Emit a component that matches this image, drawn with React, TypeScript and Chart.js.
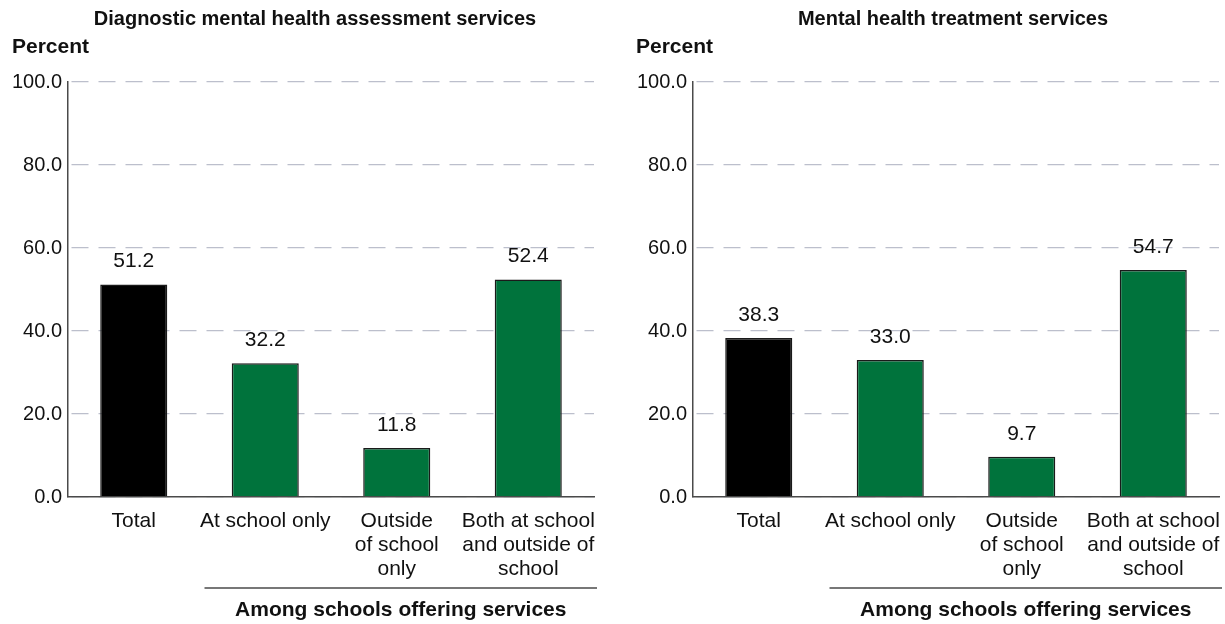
import React, { useEffect, useRef } from "react";
import { Chart, registerables } from "chart.js";

Chart.register(...registerables);

const categories: string[][] = [
  ["Total"],
  ["At school only"],
  ["Outside", "of school", "only"],
  ["Both at school", "and outside of", "school"],
];
const assessmentValues = [51.2, 32.2, 11.8, 52.4];
const treatmentValues = [38.3, 33.0, 9.7, 54.7];
const yTickValues = [0, 20, 40, 60, 80, 100];
const assessmentTitle = "Diagnostic mental health assessment services";
const treatmentTitle = "Mental health treatment services";
const yAxisLabel = "Percent";
const groupLabel = "Among schools offering services";

const GREEN = "#00733C";
const BLACK = "#000000";
const TEXT = "#111111";
const AXIS = "#4a4a4a";
const GRID = "#bcbfcc";
const FONT = "'Liberation Sans', Arial, Helvetica, sans-serif";

type PanelCfg = {
  values: number[];
  title: string;
  titleX: number;
  percentX: number;
  axisWidth: number;
  padRight: number;
};

const annotatePlugin = {
  id: "annotate",
  afterDraw(chart: any, _args: any, opts: any) {
    const ctx = chart.ctx;
    const xs = chart.scales.x;
    const area = chart.chartArea;
    ctx.save();
    ctx.fillStyle = TEXT;
    // title
    ctx.font = `bold 20px ${FONT}`;
    ctx.textAlign = "center";
    ctx.textBaseline = "middle";
    ctx.fillText(opts.title, opts.titleX, 19);
    // Percent
    ctx.font = `bold 21px ${FONT}`;
    ctx.textAlign = "left";
    ctx.fillText(yAxisLabel, opts.percentX, 47);
    // value labels
    ctx.font = `21px ${FONT}`;
    ctx.textAlign = "center";
    const meta = chart.getDatasetMeta(0);
    const data = chart.data.datasets[0].data as number[];
    meta.data.forEach((bar: any, i: number) => {
      ctx.fillText(data[i].toFixed(1), bar.x, bar.y - 23);
    });
    // group underline
    const catW = xs.getPixelForValue(1) - xs.getPixelForValue(0);
    const lx0 = xs.getPixelForValue(1) - catW / 2 + 5;
    const lx1 = area.right + 3;
    ctx.strokeStyle = AXIS;
    ctx.lineWidth = 1.5;
    ctx.beginPath();
    ctx.moveTo(lx0, 588);
    ctx.lineTo(lx1, 588);
    ctx.stroke();
    ctx.font = `bold 21px ${FONT}`;
    ctx.fillText(groupLabel, (lx0 + lx1) / 2, 610);
    ctx.restore();
  },
};

function Panel({ cfg, left, width }: { cfg: PanelCfg; left: number; width: number }) {
  const ref = useRef<HTMLCanvasElement>(null);
  useEffect(() => {
    if (!ref.current) return;
    const chart = new Chart(ref.current, {
      type: "bar",
      data: {
        labels: categories,
        datasets: [
          {
            data: cfg.values,
            backgroundColor: cfg.values.map((_, i) => (i === 0 ? BLACK : GREEN)),
            borderColor: "#1a1a1a",
            borderWidth: 1.5,
            borderSkipped: "start",
            barPercentage: 0.51,
            categoryPercentage: 1,
          },
        ],
      },
      options: {
        responsive: false,
        animation: false,
        layout: { padding: { top: 82, right: cfg.padRight, left: 0, bottom: 0 } },
        plugins: {
          legend: { display: false },
          tooltip: { enabled: false },
          title: { display: false },
          annotate: {
            title: cfg.title,
            titleX: cfg.titleX,
            percentX: cfg.percentX,
          },
        } as any,
        scales: {
          x: {
            grid: { display: false, drawTicks: false },
            border: { display: true, color: AXIS, width: 1.5 },
            ticks: {
              color: TEXT,
              font: { family: FONT, size: 21, lineHeight: "24px" },
              padding: 12,
              maxRotation: 0,
              autoSkip: false,
            },
            afterFit(scale: any) {
              scale.height = 127;
              scale.paddingLeft = 0;
              scale.paddingRight = 0;
            },
          },
          y: {
            min: 0,
            max: 100,
            afterBuildTicks(scale: any) {
              scale.ticks = yTickValues.map((v) => ({ value: v }));
            },
            grid: { color: GRID, lineWidth: 1.3, drawTicks: false },
            border: { display: true, color: AXIS, width: 1.5, dash: [17, 10], dashOffset: -3 },
            ticks: {
              color: TEXT,
              font: { family: FONT, size: 20 },
              padding: 6,
              callback: (v: any) => Number(v).toFixed(1),
            },
            afterFit(scale: any) {
              scale.width = cfg.axisWidth;
              scale.paddingTop = 0;
              scale.paddingBottom = 0;
            },
          },
        },
      },
      plugins: [annotatePlugin],
    });
    return () => chart.destroy();
  }, []);
  return (
    <canvas
      ref={ref}
      width={width}
      height={624}
      style={{ position: "absolute", left, top: 0, width, height: 624, display: "block" }}
    />
  );
}

export default function App() {
  const leftCfg: PanelCfg = {
    values: assessmentValues,
    title: assessmentTitle,
    titleX: 315,
    percentX: 12,
    axisWidth: 68,
    padRight: 18,
  };
  const rightCfg: PanelCfg = {
    values: treatmentValues,
    title: treatmentTitle,
    titleX: 341,
    percentX: 24,
    axisWidth: 81,
    padRight: 6,
  };
  return (
    <div style={{ position: "absolute", left: 0, top: 0, width: 1225, height: 624, background: "#fff" }}>
      <Panel cfg={leftCfg} left={0} width={612} />
      <Panel cfg={rightCfg} left={612} width={613} />
    </div>
  );
}
